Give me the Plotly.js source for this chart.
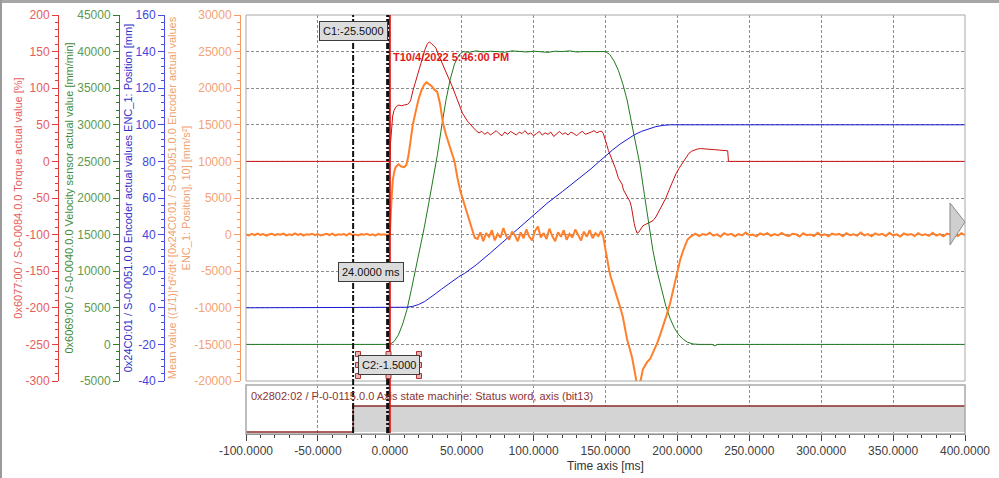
<!DOCTYPE html>
<html><head><meta charset="utf-8">
<script src="https://cdn.plot.ly/plotly-3.0.1.min.js"></script>
<style>html,body{margin:0;padding:0;background:#fff;}#chart{width:999px;height:478px;}</style>
</head><body><div id="chart"></div>
<script>
// ---------------- DATA ----------------
// Torque actual value [%] (red)
const redT1 = [-100, 0];
const redV1 = [0, 0];
const redRiseT = [0.5,1.2,2,3,4.5,6.3,8,10,12.3,13.5,14.6,16,18,20.4,22.5,24.5,26.2,27.5,29,30.5,32,34,36.5,40,43.5,47,50.5,54,57.5,60];
const redRiseV = [25,50,62,70,75,77,76,77,78,80,84,96,110,125,140,153,161,163,161,158,155,145,134,118,102,84,66,55,47,42];
const redPlatT = [62,64,66,68,70,72,74,76,78,80,82,84,86,88,90,92,94,96,98,100,102,104,106,108,110,112,114,116,118,120,122,124,126,128,130,132,134,136,138,140,142,144,146];
const redPlatV = [39,41,37,40,36,39,42,38,35,40,37,41,39,36,40,38,42,37,39,35,38,41,36,39,37,40,34,38,41,37,39,36,40,38,35,39,41,37,38,40,42,39,41];
const redFallT = [147.5,148.5,150,151,152,153.5,155,157,159,160.5,161.5,162.5,164,165.5,167,168,169,170,171,172,173,174,175,176,178,180,182,183,185,187,189,190.5,192,194,196,197,199,201,203.5,205,206.5,208,210,212,214,216,218,220,223,226,229,232,235,235.5,300,400];
const redFallV = [41,38,30,22,15,8,2,-10,-23,-28,-31,-39,-44,-50,-55,-62,-75,-85,-93,-98,-97,-94,-90,-88,-86,-84,-82,-81,-76,-69,-62,-57,-50,-40,-30,-25,-17,-10,-2,3,8,11,14,16,17,17.5,17,16.5,16,16,15.5,15,14.5,0,0,0];

// Velocity sensor actual value [mm/min] (green)
const greenT = [-100,0,3,6,9,12,15,18,21,24,27,30,33,36,39,42,45,48,51,55,60,65,70,75,80,85,90,95,100,105,110,115,120,125,130,135,140,145,150,153,156,159,162,165,168,171,174,177,180,183,186,189,192,195,198,201,204,207,211,215,224,226,228,400];
const greenV = [0,0,400,1300,2800,4800,7500,10300,13000,16000,19200,22500,25800,29700,33300,36200,38300,39500,40000,39900,40100,39950,40050,40000,39900,40100,40000,39950,40050,40000,39900,40050,40000,40100,39950,40000,40050,40000,40000,39600,38700,37400,35600,33400,30400,27400,24500,20500,16300,12800,9900,7400,5200,3500,2200,1300,700,300,50,0,0,-200,0,0];

// Encoder actual values ENC_1: Position [mm] (blue)
const blueT = [-100,0,8,12,16,20,24,28,32,36,40,44,48,52,56,60,70,80,90,100,110,120,130,140,145,150,155,160,165,170,175,180,185,190,195,400];
const blueV = [0,0,0.1,0.3,0.8,1.8,3.3,5.4,7.8,10.2,12.6,15,17,18.8,21,23.4,30,37,44,51,57.5,63.5,69.5,76,79.5,83,86.3,89.4,92.1,94.5,96.4,97.9,99,99.7,100,100];

// Mean value d²/dt² position [mm/s²] (orange)
const orangePreT = [-100,-98,-96,-94,-92,-90,-88,-86,-84,-82,-80,-78,-76,-74,-72,-70,-68,-66,-64,-62,-60,-58,-56,-54,-52,-50,-48,-46,-44,-42,-40,-38,-36,-34,-32,-30,-28,-26,-24,-22,-20,-18,-16,-14,-12,-10,-8,-6,-4,-2];
const orangePreV = [40,-120,90,-60,150,-30,80,-140,20,110,-90,60,-20,130,-100,30,-70,160,-40,90,-150,50,-10,120,-80,70,-130,10,100,-60,140,-110,40,-20,80,-90,150,-50,20,-120,60,-30,110,-70,30,-140,90,-10,50,-80];
const orangeRiseT = [0,1,2,3,4,6,8,10,11.5,13,14.5,16,18,20,22,24,25.5,27,29,31,33,35,37,39,41,43,45,47,49,51,53,55,57,59];
const orangeRiseV = [0,4000,7300,8500,9200,9600,9300,9200,9500,10800,13000,15000,16800,18500,19700,20500,20800,20600,20300,19800,19500,17800,15200,13700,12500,11300,10000,7800,6000,4700,3400,2000,600,-400];
const orangePlatT = [61,63,65,67,69,71,73,75,77,79,81,83,85,87,89,91,93,95,97,99,101,103,105,107,109,111,113,115,117,119,121,123,125,127,129,131,133,135,137,139,141,143,145,147];
const orangePlatV = [-600,300,-900,200,-300,600,-800,100,-400,900,-200,-700,400,-100,-900,300,-500,700,-300,-800,500,1100,-400,200,-600,800,-200,-900,300,-300,600,-700,100,-400,700,-100,-800,400,-300,600,-500,200,-200,500];
const orangeFallT = [148.5,149.5,150.5,151.5,152.5,153.5,155,156.5,158,160,162,163.5,165,167,168.5,170,171,172,173.5,175,176,177.5,179,181,183.5,186,188,190,192.5,195,197,199,200.5,202,204,205.5,207,209,211];
const orangeFallV = [-300,-1500,-2800,-3900,-4800,-5700,-6600,-7400,-8500,-9800,-11200,-12700,-14300,-15700,-16800,-18400,-19600,-20600,-20800,-19600,-18400,-17900,-17400,-17000,-16000,-14800,-13700,-12600,-11000,-9300,-7600,-6100,-4700,-3400,-2200,-1300,-700,-300,0];
const orangePostT = [212.5,215,217.5,220,222.5,225,227.5,230,232.5,235,237.5,240,242.5,245,247.5,250,252.5,255,257.5,260,262.5,265,267.5,270,272.5,275,277.5,280,282.5,285,287.5,290,292.5,295,297.5,300,302.5,305,307.5,310,312.5,315,317.5,320,322.5,325,327.5,330,332.5,335,337.5,340,342.5,345,347.5,350,352.5,355,357.5,360,362.5,365,367.5,370,372.5,375,377.5,380,382.5,385,387.5,390,392.5,395,397.5,400];
const orangePostV = [120,-200,80,-60,250,-150,30,-280,190,-40,100,-220,60,-120,280,-90,10,-250,150,-30,200,-170,70,-110,230,-60,-200,120,40,-260,180,-80,20,-190,260,-130,50,-220,140,-20,90,-240,200,-70,30,-150,270,-100,60,-230,170,-40,110,-180,240,-120,20,-260,150,-50,80,-210,190,-90,40,-170,260,-140,70,-230,130,-30,100,-200,180,-60];

// Status word, axis (bit13)
const statusT = [-100, -25.5, -25.5, 400];
const statusV = [0, 0, 1, 1];

// Tick labels
const xTickVals = [-100,-50,0,50,100,150,200,250,300,350,400];
const xTickText = ['-100.0000','-50.0000','0.0000','50.0000','100.0000','150.0000','200.0000','250.0000','300.0000','350.0000','400.0000'];
const redTickVals = [-300,-250,-200,-150,-100,-50,0,50,100,150,200];
const redTickText = ['-300','-250','-200','-150','-100','-50','0','50','100','150','200'];
const greenTickVals = [-5000,0,5000,10000,15000,20000,25000,30000,35000,40000,45000];
const greenTickText = ['-5000','0','5000','10000','15000','20000','25000','30000','35000','40000','45000'];
const blueTickVals = [-40,-20,0,20,40,60,80,100,120,140,160];
const blueTickText = ['-40','-20','0','20','40','60','80','100','120','140','160'];
const orangeTickVals = [-20000,-15000,-10000,-5000,0,5000,10000,15000,20000,25000,30000];
const orangeTickText = ['-20000','-15000','-10000','-5000','0','5000','10000','15000','20000','25000','30000'];

// Cursor values
const c1Time = -25.5, c2Time = -1.5, trigTime = 0;
const c1Label = 'C1:-25.5000', c2Label = 'C2:-1.5000', deltaLabel = '24.0000 ms';
const trigLabel = 'T10/4/2022 5:46:00 PM';
const statusLabel = '0x2802:02 / P-0-0115.0.0 Axis state machine: Status word, axis (bit13)';

// ---------------- LAYOUT HELPERS ----------------
const FONT = 'Liberation Sans, Arial, sans-serif';
const PW = 965;               // paper width in px (margin l=0, r=34)
const PB = 434, PH = 419;     // paper bottom px, paper height px
const py = p => (PB - p) / PH;
const X0 = 246, XS = 1.438;   // px of -100 ms, px per ms
const pt = p => (p - X0) / XS - 100;
const mainDom = [py(381), 1];
const lowDom = [0, py(385)];

function yAx(o) {
  return Object.assign({
    domain: mainDom, anchor: 'free', side: 'left', showline: true, linewidth: 1,
    ticks: 'outside', ticklen: 6, tickmode: 'array', showgrid: false, zeroline: false, fixedrange: true,
  }, o);
}

const red = {c: '#cc1212', ax: '#e03c3c', lab: '#e55d5d'};
const grn = {c: '#1f7a1f', ax: '#2f7f2f', lab: '#5e9a50'};
const blu = {c: '#1a1ad6', ax: '#4a4ae0', lab: '#4545e0'};
const org = {c: '#ff7f2a', ax: '#f59a62', lab: '#f3a276'};

const layout = {
  width: 999, height: 478,
  margin: {l: 0, r: 34, t: 15, b: 44, pad: 0},
  paper_bgcolor: '#ffffff', plot_bgcolor: '#ffffff',
  showlegend: false, hovermode: false,
  font: {family: FONT, size: 12, color: '#404040'},
  xaxis: {domain: [X0 / PW, 1], range: [-100, 400], anchor: 'y', showticklabels: false, ticks: '',
          tickmode: 'array', tickvals: xTickVals, showgrid: true, gridcolor: '#8c8c8c', griddash: '3px,2px',
          zeroline: false, showline: false},
  xaxis2: {domain: [X0 / PW, 1], range: [-100, 400], matches: 'x', anchor: 'y5',
           tickmode: 'array', tickvals: xTickVals, ticktext: xTickText,
           ticks: 'outside', ticklen: 6, tickcolor: '#404040',
           minor: {tickmode: 'linear', tick0: 0, dtick: 10, ticks: 'outside', ticklen: 3, tickcolor: '#404040'},
           showline: true, linecolor: '#505050', linewidth: 1,
           tickfont: {family: FONT, size: 12, color: '#404040'},
           showgrid: true, gridcolor: '#8c8c8c', griddash: '3px,2px', zeroline: false,
           title: {text: 'Time axis [ms]', font: {family: FONT, size: 12, color: '#333333'}, standoff: 4}},
  yaxis: yAx({range: [-300, 200], position: 58 / PW, linecolor: red.ax, tickcolor: red.ax,
              tickvals: redTickVals, ticktext: redTickText, tickfont: {family: FONT, size: 12, color: red.lab},
              minor: {tickmode: 'linear', tick0: 0, dtick: 10, ticks: 'outside', ticklen: 3, tickcolor: red.ax},
              title: {text: '0x6077:00 / S-0-0084.0.0 Torque actual value [%]', font: {family: FONT, size: 11, color: red.lab}}}),
  yaxis2: yAx({overlaying: 'y', range: [-5000, 45000], position: 119 / PW, linecolor: grn.ax, tickcolor: grn.ax,
              tickvals: greenTickVals, ticktext: greenTickText, tickfont: {family: FONT, size: 12, color: grn.lab},
              minor: {tickmode: 'linear', tick0: 0, dtick: 1000, ticks: 'outside', ticklen: 3, tickcolor: grn.ax},
              title: {text: '0x6069:00 / S-0-0040.0.0 Velocity sensor actual value [mm/min]', font: {family: FONT, size: 11, color: '#3f8a3a'}}}),
  yaxis3: yAx({overlaying: 'y', range: [-40, 160], position: 164 / PW, linecolor: blu.ax, tickcolor: blu.ax,
              tickvals: blueTickVals, ticktext: blueTickText, tickfont: {family: FONT, size: 12, color: blu.lab},
              minor: {tickmode: 'linear', tick0: 0, dtick: 4, ticks: 'outside', ticklen: 3, tickcolor: blu.ax},
              title: {text: '0x24C0:01 / S-0-0051.0.0 Encoder actual values ENC_1: Position [mm]', font: {family: FONT, size: 11, color: '#3030c8'}}}),
  yaxis4: yAx({overlaying: 'y', range: [-20000, 30000], position: 240 / PW, linecolor: org.ax, tickcolor: org.ax,
              tickvals: orangeTickVals, ticktext: orangeTickText, tickfont: {family: FONT, size: 12, color: org.lab},
              minor: {tickmode: 'linear', tick0: 0, dtick: 1000, ticks: 'outside', ticklen: 3, tickcolor: org.ax},
              showgrid: true, gridcolor: '#8c8c8c', griddash: '3px,2px',
              title: {text: 'Mean value ((1/1)|*d²/dt² [0x24C0:01 / S-0-0051.0.0 Encoder actual values<br>ENC_1: Position], 10] [mm/s²]', font: {family: FONT, size: 11, color: '#f0a272'}}}),
  yaxis5: {domain: lowDom, anchor: 'x2', range: [-0.077, 1.808], showticklabels: false, ticks: '',
           showgrid: false, zeroline: false, showline: false, fixedrange: true},
  shapes: [],
  annotations: []
};

const S = layout.shapes, A = layout.annotations;
// frames
S.push({type: 'rect', xref: 'x domain', yref: 'y domain', x0: 0, x1: 1, y0: 0, y1: 1, line: {color: '#a8a8a8', width: 1}});
S.push({type: 'rect', xref: 'x2 domain', yref: 'y5 domain', x0: 0, x1: 1, y0: 0, y1: 1, line: {color: '#a8a8a8', width: 1.5}});
// window border (top bar, left edge)
S.push({type: 'rect', xref: 'paper', yref: 'paper', x0: 0, x1: 999 / PW, y0: py(3), y1: py(0), fillcolor: '#a6a6a6', line: {width: 0}});
S.push({type: 'rect', xref: 'paper', yref: 'paper', x0: 0, x1: 2 / PW, y0: py(478), y1: py(0), fillcolor: '#9a9a9a', line: {width: 0}});
// cursor lines
S.push({type: 'line', xref: 'x', yref: 'paper', x0: c1Time, x1: c1Time, y0: py(433), y1: 1, line: {color: '#111111', width: 2, dash: '6px,2px,2px,2px'}});
S.push({type: 'line', xref: 'x', yref: 'paper', x0: trigTime, x1: trigTime, y0: py(433), y1: 1, line: {color: '#e01010', width: 2}});
S.push({type: 'line', xref: 'x', yref: 'paper', x0: c2Time, x1: c2Time, y0: py(433), y1: 1, line: {color: '#111111', width: 3, dash: '6px,2px,2px,2px'}});
// scroll arrow
S.push({type: 'path', xref: 'x', yref: 'paper',
        path: `M ${pt(950)},${py(203)} L ${pt(965)},${py(222)} L ${pt(950)},${py(245)} Z`,
        fillcolor: '#cfcfcf', line: {color: '#8a8a8a', width: 1}});
// C2 label handles
[358, 388.5, 419].forEach(hx => [354, 365, 376].forEach(hy => {
  if (hx === 388.5 && hy === 365) return;
  S.push({type: 'rect', xref: 'x', yref: 'paper', x0: pt(hx - 2.5), x1: pt(hx + 2.5), y0: py(hy + 2.5), y1: py(hy - 2.5),
          fillcolor: '#e6b4b4', line: {color: '#b03030', width: 1}});
}));

const boxFont = {family: FONT, size: 11, color: '#111111'};
const boxA = (x, y, text) => ({xref: 'x', yref: 'paper', x: x, y: y, text: text, showarrow: false,
  xanchor: 'center', yanchor: 'middle', font: boxFont, bgcolor: '#dcdcdc', bordercolor: '#3c3c3c', borderwidth: 1, borderpad: 3});
A.push(boxA(pt(353.5), py(31), c1Label));
A.push(boxA(pt(370.5), py(272), deltaLabel));
A.push(boxA(pt(388.5), py(365), c2Label));
A.push({xref: 'x', yref: 'paper', x: pt(391), y: py(57), text: trigLabel, showarrow: false, xanchor: 'left', yanchor: 'middle',
        font: {family: FONT, size: 11, color: '#e01818', weight: 'bold'}});
A.push({xref: 'x', yref: 'paper', x: pt(249), y: py(396), text: statusLabel, showarrow: false, xanchor: 'left', yanchor: 'middle',
        font: {family: FONT, size: 11, color: '#8b3434'}});

const traces = [
  {x: statusT, y: statusV, xaxis: 'x2', yaxis: 'y5', mode: 'lines', line: {color: '#8b2a2a', width: 1.5},
   fill: 'tozeroy', fillcolor: '#d4d4d4'},
  {x: [...redT1, ...redRiseT, ...redPlatT, ...redFallT], y: [...redV1, ...redRiseV, ...redPlatV, ...redFallV],
   xaxis: 'x', yaxis: 'y', mode: 'lines', line: {color: red.c, width: 1}},
  {x: greenT, y: greenV, xaxis: 'x', yaxis: 'y2', mode: 'lines', line: {color: grn.c, width: 1}},
  {x: blueT, y: blueV, xaxis: 'x', yaxis: 'y3', mode: 'lines', line: {color: blu.c, width: 1}},
  {x: [...orangePreT, ...orangeRiseT, ...orangePlatT, ...orangeFallT, ...orangePostT],
   y: [...orangePreV, ...orangeRiseV, ...orangePlatV, ...orangeFallV, ...orangePostV],
   xaxis: 'x', yaxis: 'y4', mode: 'lines', line: {color: org.c, width: 2}}
];

Plotly.newPlot('chart', traces, layout, {staticPlot: true, displayModeBar: false});
</script></body></html>
